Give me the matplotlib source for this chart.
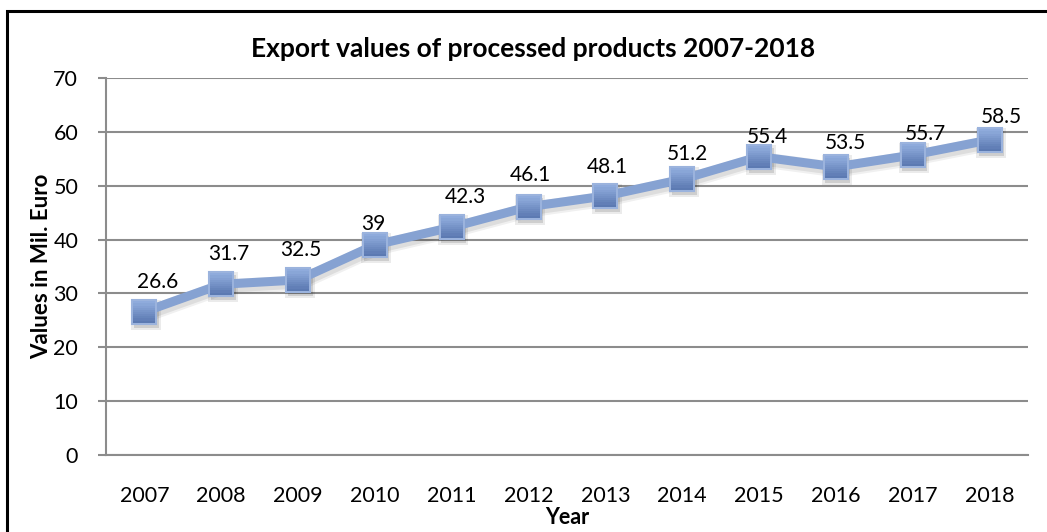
import numpy as np
import matplotlib
matplotlib.use("Agg")
import matplotlib.pyplot as plt
from matplotlib.path import Path
from matplotlib.patches import Rectangle
from matplotlib.transforms import offset_copy

plt.rcParams['font.family'] = ['Lato', 'DejaVu Sans']

years = ['2007', '2008', '2009', '2010', '2011', '2012',
         '2013', '2014', '2015', '2016', '2017', '2018']
values = [26.6, 31.7, 32.5, 39, 42.3, 46.1, 48.1, 51.2, 55.4, 53.5, 55.7, 58.5]
labels = ['26.6', '31.7', '32.5', '39', '42.3', '46.1',
          '48.1', '51.2', '55.4', '53.5', '55.7', '58.5']

# where each value label sits relative to its point (pixels)
label_dx = [13, 8, 3, -2, 14, 2, 2, 5, 8, 9, 13, 12]
label_dy = [30, 30, 30, 21, 30, 32, 29, 25, 20, 24, 21, 23]

fig = plt.figure(figsize=(10.47, 5.32), dpi=100)
ax = fig.add_axes([0.1012, 0.1447, 0.8807, 0.7087])

# outer frame, runs off the right and bottom edges
fig.patches.append(Rectangle((7 / 1047, -0.05), 1.2, 1 - 11 / 532 + 0.05,
                             transform=fig.transFigure, fill=False,
                             edgecolor='black', linewidth=2.2, zorder=0))

x = np.arange(len(years))
line_col = '#86a2d2'

# soft drop shadow under the series
shadow_tr = offset_copy(ax.transData, fig=fig, x=1.5, y=-3, units='dots')
for lw, al in [(11, 0.06), (8, 0.08)]:
    ax.plot(x, values, color='black', linewidth=lw, alpha=al,
            transform=shadow_tr, zorder=2, solid_joinstyle='round')
for ms, al in [(21, 0.08), (18, 0.12)]:
    ax.plot(x, values, linestyle='none', marker='s', markersize=ms,
            markerfacecolor='black', markeredgewidth=0, alpha=al,
            transform=shadow_tr, zorder=2)

ax.plot(x, values, color=line_col, linewidth=6.5, zorder=3)

# square markers shaded top-to-bottom using stacked bands
top_c = np.array([0x8f, 0xab, 0xdc]) / 255
bot_c = np.array([0x5c, 0x7a, 0xb2]) / 255
nb = 10
edges = np.linspace(1, -1, nb + 1)
ax.plot(x, values, linestyle='none', marker='s', markersize=17.5,
        markerfacecolor='#7592c8', markeredgecolor='#9bb3dd', markeredgewidth=1.5,
        zorder=4)
for i in range(nb):
    a, b = edges[i + 1], edges[i]
    band = Path([(-1, a), (1, a), (1, b), (-1, b), (-1, a)])
    c = top_c + (bot_c - top_c) * (i / (nb - 1))
    ax.plot(x, values, linestyle='none', marker=band, markersize=15.5,
            markerfacecolor=c, markeredgewidth=0, zorder=5)

for xi, v, t, dx, dy in zip(x, values, labels, label_dx, label_dy):
    ax.annotate(t, (xi, v), xytext=(dx, dy), textcoords='offset pixels',
                ha='center', va='center', fontsize=15, color='black', zorder=6)

ax.set_xlim(-0.5, len(years) - 0.5)
ax.set_ylim(0, 70)
ax.set_yticks(np.arange(0, 71, 10))
ax.set_xticks(x)
ax.set_xticklabels(years)
ax.grid(axis='y', color='#8c8c8c', linewidth=1.5, zorder=1)
ax.set_axisbelow(True)

for s in ['top', 'right']:
    ax.spines[s].set_visible(False)
for s in ['left', 'bottom']:
    ax.spines[s].set_color('#8c8c8c')
    ax.spines[s].set_linewidth(1.5)

ax.tick_params(axis='y', length=6, width=1.5, color='#8c8c8c', labelsize=15.5, pad=14)
ax.tick_params(axis='x', length=0, labelsize=15.5, pad=22)

ax.set_xlabel('Year', fontsize=15.5, fontweight='bold', labelpad=1)
ax.set_ylabel('Values in Mil. Euro', fontsize=16, fontweight='bold', labelpad=1)
fig.text(533 / 1047, 1 - 49 / 532, 'Export values of processed products 2007-2018',
         ha='center', va='center', fontsize=19, fontweight='bold')

fig.savefig('out.png', dpi=100)
